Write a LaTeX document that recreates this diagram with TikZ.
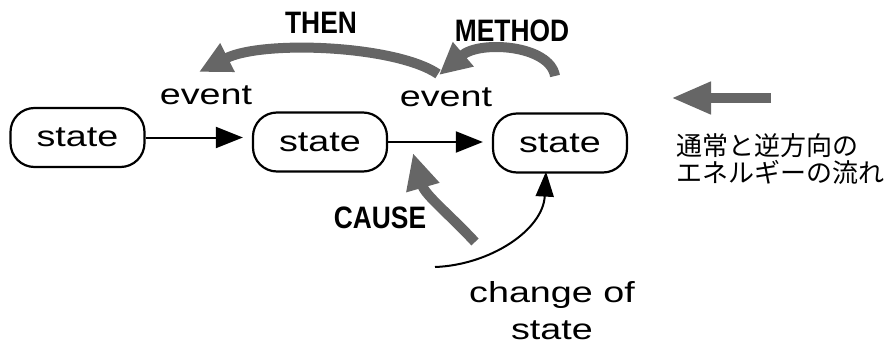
\documentclass[tikz,border=0pt]{standalone}
\usepackage{fontspec}
\usetikzlibrary{arrows.meta}
\newfontfamily\helv[FakeStretch=1.3]{Liberation Sans}
\newfontfamily\capfont[FakeStretch=0.85]{Liberation Sans}
\newfontfamily\jpfont{Noto Sans CJK JP}
\tikzset{
  statebox/.style={draw, line width=2.2pt, rounded corners=24pt,
    minimum width=134pt, minimum height=59pt, inner sep=0pt,
    font=\helv\fontsize{29}{32}\selectfont},
  lbl/.style={font=\helv\fontsize{29}{37}\selectfont, inner sep=0pt},
  caplbl/.style={font=\capfont\bfseries\fontsize{31}{32}\selectfont, inner sep=0pt},
  evarrow/.style={line width=2pt, shorten >=9pt, -{Triangle[length=27pt,width=21pt]}},
  fatarrow/.style={line width=10pt, draw=black!60, -{Triangle[length=32pt,width=30pt]}},
}
\begin{document}
\begin{tikzpicture}[x=1pt,y=-1pt]
  \useasboundingbox (0,0) rectangle (892,348);

  % chain of states
  \node[statebox] (s1) at (77.5,137.5) {state};
  \node[statebox] (s2) at (320,142) {state};
  \node[statebox] (s3) at (560,143) {state};

  \draw[evarrow] (s1.east) -- (s1.east -| s2.west);
  \draw[evarrow] (s2.east) -- (s2.east -| s3.west);

  \node[lbl] (ev1) at (206,95) {event};
  \node[lbl] (ev2) at (446,97) {event};

  % reverse flows
  \node[caplbl] (then) at (321,23) {THEN};
  \node[caplbl] (method) at (512,31) {METHOD};
  \node[caplbl] (cause) at (380,218) {CAUSE};

  \coordinate (thenA) at (438,74);
  \coordinate (thenB) at (199,72);
  \draw[fatarrow] (thenA) .. controls (395,45) and (262,40) .. (thenB);

  \coordinate (methA) at (555,76);
  \coordinate (methB) at (439,75);
  \draw[fatarrow] (methA) .. controls (550,45) and (480,40) .. (methB);

  \coordinate (causeA) at (475,242);
  \coordinate (causeB) at (413,153);
  \draw[fatarrow, -{Triangle[length=36pt,width=32pt]}]
    (causeA) .. controls (450,215) and (425,195) .. (causeB);

  % change of state
  \coordinate (csA) at (435,267);
  \draw[line width=2pt, -{Triangle[length=25pt,width=18pt]}]
    (csA) .. controls (490,265) and (543,230) .. ([xshift=-14pt,yshift=2pt]s3.south);
  \node[lbl, align=center, anchor=north] (chg) at (552,281) {change of\\state};

  % legend
  \coordinate (legA) at (771,98);
  \coordinate (legB) at (671,98);
  \draw[fatarrow, -{Triangle[length=40pt,width=30pt]}] (legA) -- (legB);
  \node[font=\jpfont\fontsize{26}{27}\selectfont, align=left, anchor=west, inner sep=0pt]
    (jp) at (676,159) {通常と逆方向の\\エネルギーの流れ};
\end{tikzpicture}
\end{document}
